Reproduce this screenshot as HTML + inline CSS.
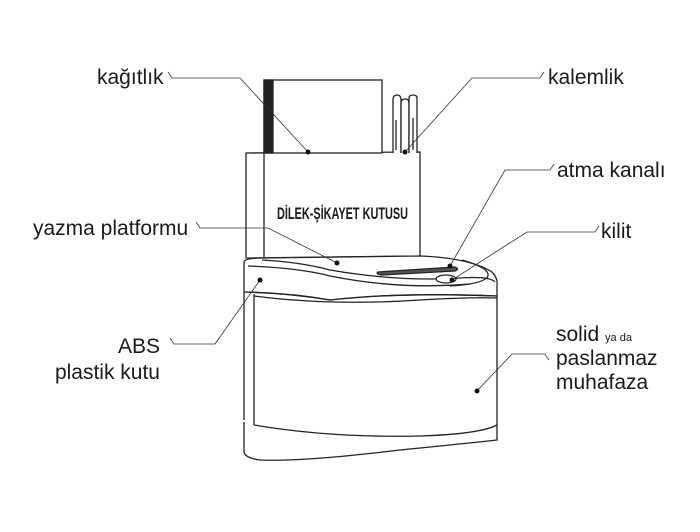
<!DOCTYPE html>
<html><head><meta charset="utf-8"><style>
html,body{margin:0;padding:0;background:#fff;}
svg{display:block;}
text{font-family:"Liberation Sans",sans-serif;fill:#1a1a1a;}
</style></head><body>
<svg width="700" height="532" viewBox="0 0 700 532" xmlns="http://www.w3.org/2000/svg">
<g fill="none" stroke="#222" stroke-width="1.3">
<!-- back panel -->
<path d="M246 153 L420 152 L420 256 L246 258 Z" fill="#fff"/>
<line x1="264" y1="153" x2="264" y2="258"/>
<!-- paper -->
<rect x="264" y="80" width="118" height="73" fill="#fff"/>
<rect x="264" y="80" width="9" height="73" fill="#222"/>
<!-- pens -->
<path d="M393 153 L393 100 Q393 95 397 95 Q401 95 401 100 L401 153" fill="#fff"/>
<path d="M401 153 L401 103 Q401 99 405 99 Q409 99 409 103 L409 153" fill="#fff"/>
<path d="M409 153 L409 98 Q409 95 413 95 Q417 95 417 98 L417 153" fill="#fff"/>
<line x1="396" y1="120" x2="396" y2="150"/>
<line x1="413" y1="118" x2="413" y2="150"/>
<!-- lid -->
<path d="M244 262 Q245 258 262 258 L420 256 Q470 258 492 272 Q498 278 497 285 L497 296 Q400 292 330 300 Q290 293 244 292 Z" fill="#fff"/>
<path d="M262 260 Q300 262 330 270 Q400 282 460 278 Q490 276 495 282"/>
<path d="M248 266 Q300 268 330 276 Q400 290 470 284"/>
<path d="M378 272 L455 267 Q460 269 455 271 L382 275 Q375 274 378 272 Z" fill="#555"/>
<ellipse cx="446" cy="279" rx="10" ry="4" fill="#fff"/>
<path d="M462 260 Q490 268 488 276 Q484 284 450 286"/>
<!-- body -->
<path d="M244 292 L244 420 M497 296 L497 420"/>
<path d="M244 292 Q290 293 330 300 Q400 292 497 296"/>
<line x1="254" y1="294" x2="254" y2="425"/>
<path d="M254 296 Q330 306 420 300 Q470 297 497 298"/>
<!-- base -->
<path d="M254 425 Q330 438 420 436 Q480 434 497 425"/>
<path d="M244 422 L244 452 Q245 458 260 460 Q300 462 400 450 Q480 442 497 440 L497 420"/>
</g>
<text x="277" y="219" font-size="17" font-weight="bold" textLength="131" lengthAdjust="spacingAndGlyphs">DİLEK-ŞİKAYET KUTUSU</text>
<!-- leaders -->
<g fill="none" stroke="#333" stroke-width="0.8">
<path d="M168 72 L172 78 L240 78 L308 152"/>
<path d="M405 152 L472 78 L540 78 L544 72"/>
<path d="M450 266 L505 170 L550 170 L554 164"/>
<path d="M452 280 L527 232 L595 232 L599 226"/>
<path d="M196 222 L200 228 L268 228 L337 263"/>
<path d="M170 338 L174 344 L215 344 L260 280"/>
<path d="M477 391 L512 354 L545 354 L549 360"/>
</g>
<g fill="#111">
<circle cx="308" cy="152" r="2.5"/><circle cx="405" cy="152" r="2.5"/>
<circle cx="450" cy="266" r="2.5"/><circle cx="452" cy="280" r="2.5"/>
<circle cx="337" cy="263" r="2.5"/><circle cx="260" cy="280" r="2.5"/>
<circle cx="477" cy="391" r="2.5"/>
</g>
<g font-size="21">
<text x="97" y="84">kağıtlık</text>
<text x="548" y="84">kalemlik</text>
<text x="557" y="177">atma kanalı</text>
<text x="601" y="238">kilit</text>
<text x="33" y="235">yazma platformu</text>
<text x="160" y="353" text-anchor="end">ABS</text>
<text x="160" y="379" text-anchor="end">plastik kutu</text>
<text x="556" y="341">solid <tspan font-size="11">ya da</tspan></text>
<text x="556" y="365">paslanmaz</text>
<text x="556" y="389">muhafaza</text>
</g>
</svg>
</body></html>
